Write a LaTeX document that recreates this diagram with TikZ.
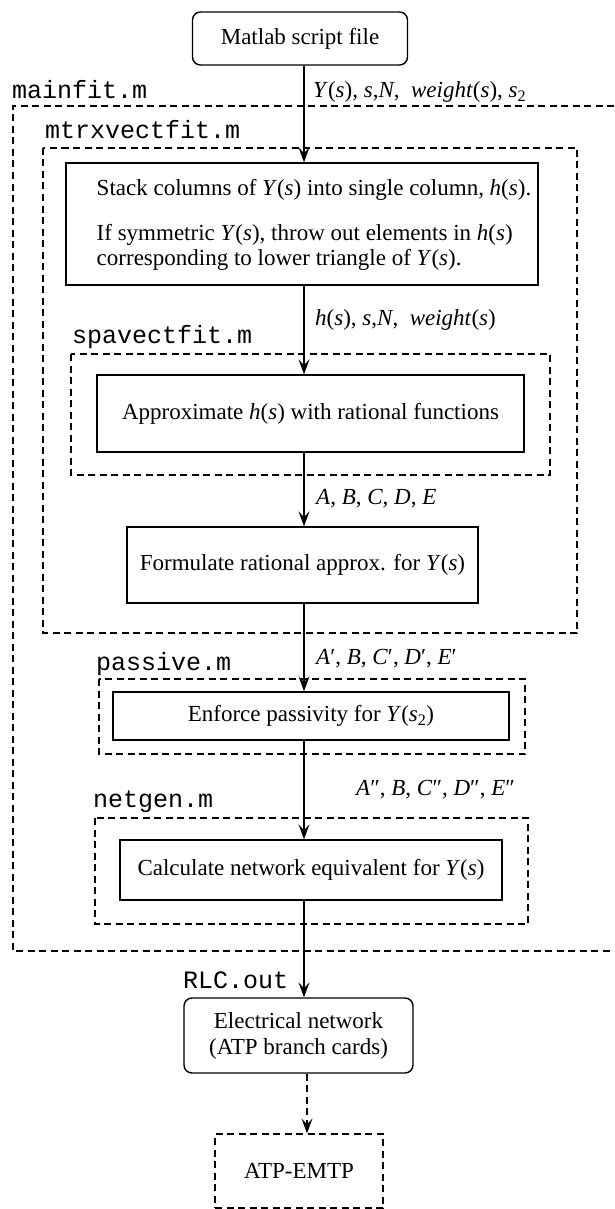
\documentclass[tikz,border=0pt]{standalone}
\usepackage{fontspec}
\setmainfont{Liberation Serif}
\setmonofont{Liberation Mono}
\usetikzlibrary{arrows.meta}

\begin{document}
\begin{tikzpicture}[x=1pt,y=-1pt,>={Stealth[length=15pt,width=11pt,inset=6pt]}]
\tikzstyle{blk}=[draw,rectangle,line width=1.4pt,font=\fontsize{23}{26}\selectfont]
\tikzstyle{rblk}=[blk,rounded corners=8pt]
\tikzstyle{frame}=[line width=1.2pt,dash pattern=on 7pt off 4.5pt]
\tikzstyle{fname}=[anchor=base west,inner sep=0pt,font=\ttfamily\fontsize{25}{30}\selectfont]
\tikzstyle{sig}=[anchor=base west,inner sep=0pt,font=\fontsize{23}{26}\selectfont]
\tikzstyle{every edge}=[draw,->,line width=1.2pt]

\useasboundingbox (0,0) rectangle (614,1209);

% function frames
\draw[frame] (614,106) -- (13,106) -- (13,951) -- (614,951);
\draw[frame] (43,148) rectangle (577,633);
\draw[frame] (71,354) rectangle (550,475);
\draw[frame] (99,679) rectangle (525,754);
\draw[frame] (95,818) rectangle (528,924);

\node[fname] (mainfit) at (12,99)  {mainfit.m};
\node[fname] (mtrx)    at (45,139) {mtrxvectfit.m};
\node[fname] (spa)     at (72,343) {spavectfit.m};
\node[fname] (pass)    at (96,670) {passive.m};
\node[fname] (netgen)  at (93,807) {netgen.m};
\node[fname] (rlc)     at (183,988) {RLC.out};

% boxes
\node[rblk,minimum width=215pt,minimum height=53pt] (script) at (300,38.5) {Matlab script file};
\node[blk,minimum width=472pt,minimum height=122pt] (stack) at (302,224) {};
\node[align=left,font=\fontsize{23}{25}\selectfont] (stacktxt) at (314,225)
  {Stack columns of \textit{Y}(\textit{s}) into single column, \textit{h}(\textit{s}).\\[20pt]
   If symmetric \textit{Y}(\textit{s}), throw out elements in \textit{h}(\textit{s})\\
   corresponding to lower triangle of \textit{Y}(\textit{s}).};
\node[blk,minimum width=427pt,minimum height=77pt] (approx) at (310.5,413.5)
  {Approximate \textit{h}(\textit{s}) with rational functions};
\node[blk,minimum width=351pt,minimum height=76pt] (form) at (302.5,565)
  {Formulate rational approx. for \textit{Y}(\textit{s})};
\node[blk,minimum width=396pt,minimum height=48pt] (enf) at (311,716)
  {Enforce passivity for \textit{Y}(\textit{s}\textsubscript{2})};
\node[blk,minimum width=382pt,minimum height=60pt] (calc) at (311,870)
  {Calculate network equivalent for \textit{Y}(\textit{s})};
\node[rblk,align=center,minimum width=229pt,minimum height=75pt] (elec) at (298.5,1035.5)
  {Electrical network\\(ATP branch cards)};
\node[blk,frame,minimum width=168pt,minimum height=74pt] (atp) at (299,1171) {ATP-EMTP};

% data passed along
\node[sig] (sigY)  at (313,98)  {\textit{Y}(\textit{s}), \textit{s},\textit{N}, \ \textit{weight}(\textit{s}), \textit{s}\textsubscript{2}};
\node[sig] (sigh)  at (315,325) {\textit{h}(\textit{s}), \textit{s},\textit{N}, \ \textit{weight}(\textit{s})};
\node[sig] (sigA)  at (316,504) {\textit{A}, \textit{B}, \textit{C}, \textit{D}, \textit{E}};
\node[sig] (sigA1) at (316,664) {\textit{A}′, \textit{B}, \textit{C}′, \textit{D}′, \textit{E}′};
\node[sig] (sigA2) at (356,795) {\textit{A}″, \textit{B}, \textit{C}″, \textit{D}″, \textit{E}″};

\coordinate (ax)  at (304,0);
\coordinate (ax2) at (307,0);

\path (script.south -| ax) edge (stack.north -| ax)
      (stack.south -| ax)  edge (approx.north -| ax)
      (approx.south -| ax) edge (form.north -| ax)
      (form.south -| ax)   edge (enf.north -| ax)
      (enf.south -| ax)    edge (calc.north -| ax)
      (calc.south -| ax)   edge (elec.north -| ax)
      (elec.south -| ax2)  edge[frame] (atp.north -| ax2);
\end{tikzpicture}
\end{document}
